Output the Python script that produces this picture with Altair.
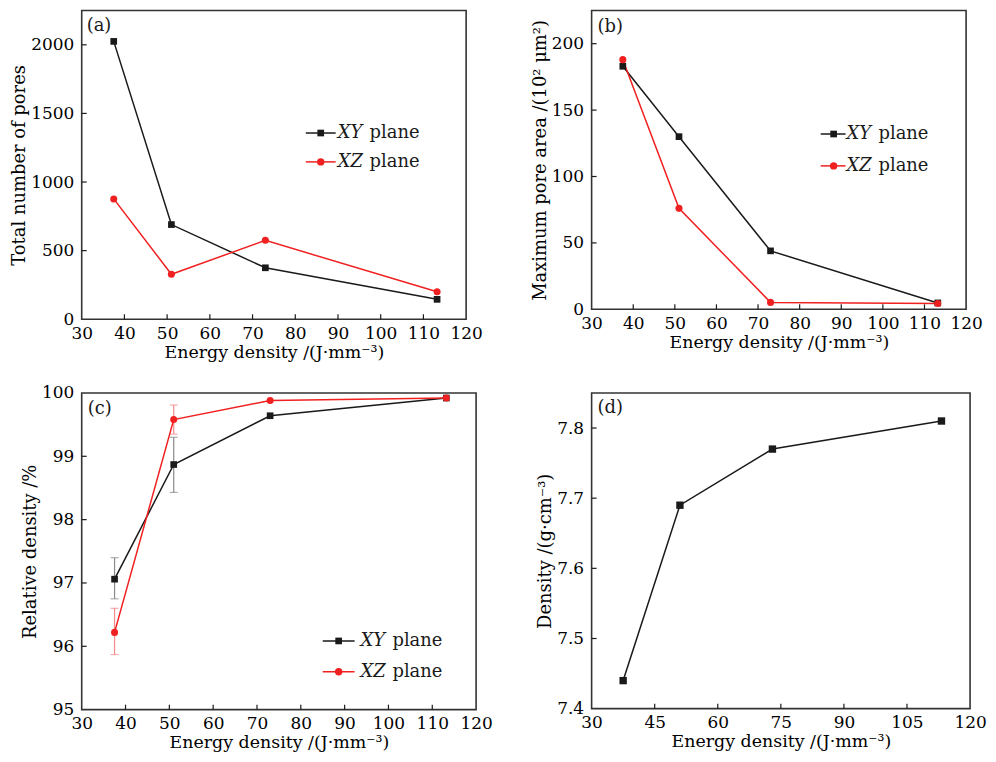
import altair as alt
import pandas as pd

FONT = "DejaVu Serif"

energy = [37.5, 51, 73, 113.2]
pores_xy = [2025, 690, 375, 145]
pores_xz = [877, 328, 575, 200]
area_xy = [183, 130, 44, 4.8]
area_xz = [188, 76, 5.2, 4.3]
rel_xy = [97.06, 98.87, 99.64, 99.92]
rel_xz = [96.22, 99.58, 99.88, 99.92]
err_energy = [37.5, 51]
rel_xy_lo = [96.75, 98.43]
rel_xy_hi = [97.40, 99.30]
rel_xz_lo = [95.87, 99.35]
rel_xz_hi = [96.60, 99.81]
density = [7.44, 7.69, 7.77, 7.81]

series_names = ["XY plane", "XZ plane"]
x_ticks_abc = [30, 40, 50, 60, 70, 80, 90, 100, 110, 120]
x_ticks_d = [30, 45, 60, 75, 90, 105, 120]
y_ticks_a = [0, 500, 1000, 1500, 2000]
y_ticks_b = [0, 50, 100, 150, 200]
y_ticks_c = [95, 96, 97, 98, 99, 100]
y_ticks_d = [7.4, 7.5, 7.6, 7.7, 7.8]

X_TITLE = "Energy density /(J·mm⁻³)"
BLACK = "#1a1a1a"
RED = "#f02020"
ONE = pd.DataFrame({"k": [0]})
LEG_FS = 18


def make_panel(xs, series, xdom, xticks, ydom, yticks, ytitle, yfmt, w, h,
               label, label_pos, legend=None, errors=None):
    def X(field="x"):
        return alt.X(f"{field}:Q",
                     scale=alt.Scale(domain=xdom, nice=False, zero=False),
                     axis=alt.Axis(values=xticks, title=X_TITLE, format="d"))

    def Y(field="y"):
        return alt.Y(f"{field}:Q",
                     scale=alt.Scale(domain=ydom, nice=False, zero=False),
                     axis=alt.Axis(values=yticks, title=ytitle, format=yfmt))

    rows = []
    for name, vals, col, shp, sz in series:
        for xv, yv in zip(xs, vals):
            rows.append({"x": xv, "y": yv, "s": name})
    df = pd.DataFrame(rows)
    names = [s[0] for s in series]
    cols = [s[2] for s in series]
    shapes = [s[3] for s in series]
    sizes = [s[4] for s in series]
    color = alt.Color("s:N", scale=alt.Scale(domain=names, range=cols), legend=None)

    layers = []
    # inward ticks
    xt = pd.DataFrame({"x": [v for v in xticks if xdom[0] < v < xdom[1]]})
    yt = pd.DataFrame({"y": [v for v in yticks if ydom[0] < v < ydom[1]]})
    layers.append(alt.Chart(xt).mark_rule(color=BLACK, strokeWidth=1.2).encode(
        x=X(), y=alt.value(h), y2=alt.value(h - 5)))
    layers.append(alt.Chart(yt).mark_rule(color=BLACK, strokeWidth=1.2).encode(
        y=Y(), x=alt.value(0), x2=alt.value(5)))

    if errors:
        for ex, lo, hi, ecol in errors:
            edf = pd.DataFrame({"x": ex, "lo": lo, "hi": hi})
            layers.append(alt.Chart(edf).mark_rule(color=ecol, strokeWidth=1.2).encode(
                x=X(), y=Y("lo"), y2="hi:Q"))
            cdf = pd.DataFrame({"x": ex + ex, "y": lo + hi})
            layers.append(alt.Chart(cdf).mark_tick(color=ecol, orient="horizontal",
                                                   size=8, thickness=1.2).encode(
                x=X(), y=Y()))

    layers.append(alt.Chart(df).mark_line(strokeWidth=1.5).encode(
        x=X(), y=Y(), color=color, order=alt.Order("x:Q")))
    layers.append(alt.Chart(df).mark_point(filled=True, opacity=1).encode(
        x=X(), y=Y(), color=color,
        shape=alt.Shape("s:N", scale=alt.Scale(domain=names, range=shapes), legend=None),
        size=alt.Size("s:N", scale=alt.Scale(domain=names, range=sizes), legend=None)))

    layers.append(alt.Chart(ONE).mark_text(font=FONT, fontSize=18, align="left",
                                           baseline="middle", color=BLACK).encode(
        x=alt.value(label_pos[0]), y=alt.value(label_pos[1]), text=alt.value(label)))

    if legend:
        lx0, lx1, sx, tx, ly0, dy = legend
        for i, (name, vals, col, shp, sz) in enumerate(series):
            ly = ly0 + i * dy
            layers.append(alt.Chart(ONE).mark_rule(color=col, strokeWidth=1.5).encode(
                x=alt.value(lx0), x2=alt.value(lx1), y=alt.value(ly)))
            layers.append(alt.Chart(ONE).mark_point(filled=True, opacity=1, color=col,
                                                    shape=shp, size=sz).encode(
                x=alt.value(sx), y=alt.value(ly)))
            italic, rest = name.split(" ")
            layers.append(alt.Chart(ONE).mark_text(font=FONT, fontSize=LEG_FS, fontStyle="italic",
                                                   align="left", baseline="middle",
                                                   color=BLACK).encode(
                x=alt.value(tx), y=alt.value(ly), text=alt.value(italic)))
            layers.append(alt.Chart(ONE).mark_text(font=FONT, fontSize=LEG_FS, align="left",
                                                   baseline="middle", color=BLACK).encode(
                x=alt.value(tx + 32), y=alt.value(ly), text=alt.value(rest)))

    return alt.layer(*layers).properties(width=w, height=h)


two_series = lambda a, b: [
    (series_names[0], a, BLACK, "square", 45),
    (series_names[1], b, RED, "circle", 55),
]

pa = make_panel(energy, two_series(pores_xy, pores_xz), [30, 120], x_ticks_abc,
                [0, 2250], y_ticks_a, "Total number of pores", "d", 386, 310,
                "(a)", (5, 16), legend=(225, 255, 240, 257, 123, 29))
pb = make_panel(energy, two_series(area_xy, area_xz), [30, 120], x_ticks_abc,
                [0, 225], y_ticks_b, "Maximum pore area /(10² μm²)", "d", 376, 300,
                "(b)", (6, 17), legend=(230, 255, 243, 256, 124, 32))
pc = make_panel(energy, two_series(rel_xy, rel_xz), [30, 120], x_ticks_abc,
                [95, 100], y_ticks_c, "Relative density /%", "d", 396, 318,
                "(c)", (6, 16), legend=(242, 274, 258, 280, 249, 31),
                errors=[(err_energy, rel_xy_lo, rel_xy_hi, "#8a8a8a"),
                        (err_energy, rel_xz_lo, rel_xz_hi, "#f58a8a")])
pd_ = make_panel(energy, [("Density", density, BLACK, "square", 45)], [30, 120], x_ticks_d,
                 [7.4, 7.85], y_ticks_d, "Density /(g·cm⁻³)", ".1f", 380, 317,
                 "(d)", (6, 15))

chart = alt.concat(pa, pb, pc, pd_, columns=2,
                   spacing=alt.RowColnumber(row=74, column=116),
                   bounds="flush").properties(
    padding={"left": 1, "top": 0, "right": 0, "bottom": 0}
).configure_view(
    stroke="#333333", strokeWidth=1.6
).configure_axis(
    labelFont=FONT, titleFont=FONT, labelFontSize=17,
    labelColor="black", titleColor="black", titleFontWeight="normal",
    domain=False, grid=False, ticks=False, labelFlush=False, labelOverlap=False,
).configure_axisX(
    labelPadding=6, titlePadding=2, titleFontSize=17.5
).configure_axisY(
    labelPadding=8, titlePadding=2, titleFontSize=18
)

chart.save("out.html", embed_options={"renderer": "svg", "actions": False})
